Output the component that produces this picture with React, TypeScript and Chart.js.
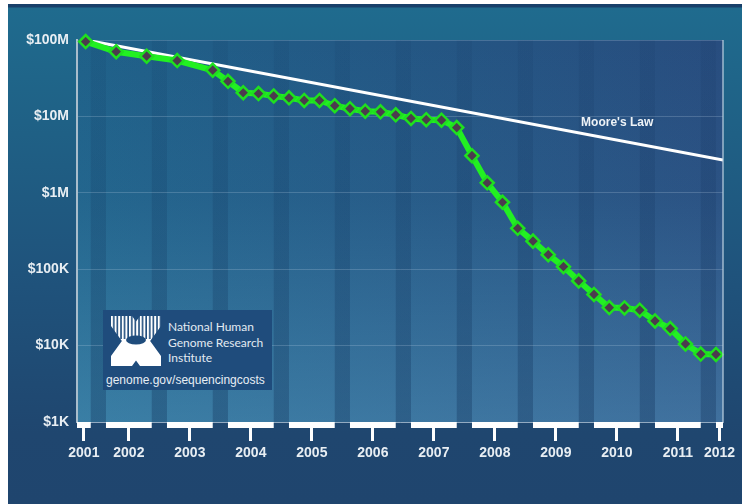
import React, { useEffect, useRef } from "react";
import { Chart, registerables } from "chart.js";

Chart.register(...registerables);

// ---- data ----
// sample dates as fractional years (Sep 2001 ... Jan 2012)
const sampleDates = [
  2001.667, 2002.167, 2002.667, 2003.167, 2003.75, 2004.0, 2004.25, 2004.5, 2004.75,
  2005.0, 2005.25, 2005.5, 2005.75, 2006.0, 2006.25, 2006.5, 2006.75,
  2007.0, 2007.25, 2007.5, 2007.75, 2008.0, 2008.25, 2008.5, 2008.75,
  2009.0, 2009.25, 2009.5, 2009.75, 2010.0, 2010.25, 2010.5, 2010.75,
  2011.0, 2011.25, 2011.5, 2011.75, 2012.0,
];
// cost per genome (USD)
const costPerGenome = [
  95.3e6, 70.2e6, 61.4e6, 53.8e6, 40.2e6, 28.8e6, 20.4e6, 19.9e6, 18.5e6,
  17.5e6, 16.2e6, 16.2e6, 13.8e6, 12.6e6, 11.7e6, 11.5e6, 10.5e6,
  9.41e6, 9.05e6, 8.93e6, 7.15e6, 3.06e6, 1.35e6, 752e3, 343e3,
  233e3, 155e3, 108e3, 70.3e3, 46.8e3, 31.5e3, 31.1e3, 29.1e3,
  21.0e3, 16.7e3, 10.5e3, 7.74e3, 7.67e3,
];
// Moore's Law reference line (two end points)
const mooreDates = [2001.667, 2012.115];
const mooreValues = [100e6, 2.68e6];
const mooreLabel = "Moore's Law";

const xTickYears = [2001, 2002, 2003, 2004, 2005, 2006, 2007, 2008, 2009, 2010, 2011, 2012];
const xTickLabels = ["2001", "2002", "2003", "2004", "2005", "2006", "2007", "2008", "2009", "2010", "2011", "2012"];
const yTickValues = [1e3, 1e4, 1e5, 1e6, 1e7, 1e8];
const yTickLabels = ["$1K", "$10K", "$100K", "$1M", "$10M", "$100M"];

const X_MIN = 2001.525;
const X_MAX = 2012.115;
const LIGHT_SPAN = 0.75; // light part of each year block (Jan..Oct)

const FONT = "'Liberation Sans', Arial, sans-serif";

function lightSeg(yr: number): [number, number] {
  return [Math.max(yr, X_MIN), Math.min(yr + LIGHT_SPAN, X_MAX)];
}

const decorPlugin = {
  id: "decor",
  beforeDraw(chart: any) {
    const { ctx, chartArea: a, scales } = chart;
    const x = scales.x;
    ctx.save();
    const g = ctx.createLinearGradient(a.left, 0, a.right, 0);
    g.addColorStop(0, "#1f6189");
    g.addColorStop(1, "#284d7f");
    ctx.fillStyle = g;
    ctx.fillRect(a.left, a.top, a.width, a.height);
    const v = ctx.createLinearGradient(0, a.top, 0, a.bottom);
    v.addColorStop(0, "rgba(110,190,225,0)");
    v.addColorStop(0.4, "rgba(110,190,225,0.05)");
    v.addColorStop(1, "rgba(120,195,230,0.3)");
    ctx.fillStyle = v;
    ctx.fillRect(a.left, a.top, a.width, a.height);
    // darker bands (Oct..Dec of each year)
    const b = ctx.createLinearGradient(0, a.top, 0, a.bottom);
    b.addColorStop(0, "rgba(10,40,80,0.08)");
    b.addColorStop(0.5, "rgba(10,40,80,0.18)");
    b.addColorStop(1, "rgba(10,40,80,0.3)");
    ctx.fillStyle = b;
    for (const yr of [2000, ...xTickYears]) {
      const s = Math.max(yr + LIGHT_SPAN, X_MIN);
      const e = Math.min(yr + 1, X_MAX);
      if (e > s) {
        const p0 = x.getPixelForValue(s);
        const p1 = x.getPixelForValue(e);
        ctx.fillRect(p0, a.top, p1 - p0, a.height);
      }
    }
    ctx.restore();
  },
  afterDatasetsDraw(chart: any) {
    const { ctx, scales } = chart;
    ctx.save();
    ctx.font = `bold 12px ${FONT}`;
    ctx.fillStyle = "#eef3f7";
    ctx.textAlign = "center";
    ctx.textBaseline = "middle";
    ctx.fillText(mooreLabel, scales.x.getPixelForValue(2010.38), scales.y.getPixelForValue(8.2e6));
    ctx.restore();
  },
  afterDraw(chart: any) {
    const { ctx, chartArea: a, scales } = chart;
    const x = scales.x;
    ctx.save();
    // right border
    ctx.strokeStyle = "rgba(190,210,225,0.6)";
    ctx.lineWidth = 2;
    ctx.beginPath();
    ctx.moveTo(a.right, a.top);
    ctx.lineTo(a.right, a.bottom);
    ctx.stroke();
    // white year bars under the axis
    ctx.fillStyle = "#ffffff";
    for (const yr of xTickYears) {
      const [s, e] = lightSeg(yr);
      if (e > s) {
        const p0 = x.getPixelForValue(s);
        const p1 = x.getPixelForValue(e);
        ctx.fillRect(p0, a.bottom, p1 - p0, 6);
      }
    }
    ctx.restore();
  },
};

const IconX = () => (
  <svg width="50" height="50" viewBox="0 0 50 50" style={{ position: "absolute", left: 8, top: 6 }}>
    <defs>
      <pattern id="nhgriStripes" width="3.6" height="50" patternUnits="userSpaceOnUse">
        <rect x="0" y="0" width="2" height="50" fill="#ffffff" />
      </pattern>
      <clipPath id="nhgriX">
        <polygon points="0,0 21,0 50,40 50,50 29,50 0,10" />
        <polygon points="29,0 50,0 50,10 21,50 0,50 0,40" />
      </clipPath>
    </defs>
    <g clipPath="url(#nhgriX)">
      <rect x="0" y="0" width="50" height="23" fill="url(#nhgriStripes)" />
      <rect x="0" y="23" width="50" height="27" fill="#ffffff" />
    </g>
    <ellipse cx="25" cy="24" rx="10" ry="4.5" fill="#1f4c7c" />
  </svg>
);

export default function App() {
  const ref = useRef<HTMLCanvasElement>(null);

  useEffect(() => {
    if (!ref.current) return;
    const chart = new Chart(ref.current, {
      type: "line",
      data: {
        datasets: [
          {
            label: "Cost per Genome",
            data: sampleDates.map((d, i) => ({ x: d, y: costPerGenome[i] })),
            borderColor: "#22f022",
            borderWidth: 6,
            pointStyle: "rectRot",
            pointRadius: 6.5,
            pointBackgroundColor: "#4c3b4e",
            pointBorderColor: "#1fe01f",
            pointBorderWidth: 2.5,
            tension: 0,
            clip: false as any,
            order: 0,
          },
          {
            label: mooreLabel,
            data: mooreDates.map((d, i) => ({ x: d, y: mooreValues[i] })),
            borderColor: "#ffffff",
            borderWidth: 3,
            pointRadius: 0,
            tension: 0,
            order: 1,
          },
        ],
      },
      options: {
        animation: false,
        responsive: true,
        maintainAspectRatio: false,
        layout: { padding: { left: 0, top: 36, right: 19, bottom: 42 } },
        plugins: {
          legend: { display: false },
          tooltip: { enabled: false },
          title: { display: false },
        },
        scales: {
          x: {
            type: "linear",
            min: X_MIN,
            max: X_MAX,
            afterBuildTicks: (scale: any) => {
              scale.ticks = xTickYears.map((yr) => {
                const [s, e] = lightSeg(yr);
                return { value: (s + e) / 2 };
              });
            },
            afterFit: (scale: any) => {
              scale.height = 40;
            },
            ticks: {
              autoSkip: false,
              maxRotation: 0,
              padding: 4,
              color: "#e8eef3",
              font: { family: FONT, size: 14, weight: "bold" },
              callback: (_v: any, i: number) => xTickLabels[i],
            },
            grid: {
              drawOnChartArea: false,
              drawTicks: true,
              tickLength: 19,
              tickWidth: 3,
              tickColor: "#ffffff",
            },
            border: { display: true, color: "rgba(200,215,230,0.6)", width: 1 },
          },
          y: {
            type: "logarithmic",
            min: 1e3,
            max: 1e8,
            afterBuildTicks: (scale: any) => {
              scale.ticks = yTickValues.map((v) => ({ value: v }));
            },
            afterFit: (scale: any) => {
              scale.width = 69;
            },
            ticks: {
              padding: 8,
              color: "#e8eef3",
              font: { family: FONT, size: 14, weight: "bold" },
              callback: (v: any) => {
                const i = yTickValues.indexOf(Number(v));
                return i >= 0 ? yTickLabels[i] : "";
              },
            },
            grid: {
              color: "rgba(200,220,235,0.22)",
              lineWidth: 1,
              drawTicks: false,
            },
            border: { display: true, color: "#a9bdcc", width: 2 },
          },
        },
      } as any,
      plugins: [decorPlugin],
    });
    return () => chart.destroy();
  }, []);

  return (
    <div
      style={{
        position: "absolute",
        left: 8,
        top: 4,
        width: 734,
        height: 500,
        background:
          "linear-gradient(to bottom, #18406a 0px, #18406a 3px, #1f6b8e 4px, #1f6085 130px, #1f537c 270px, #1f466f 430px, #1f456e 500px)",
      }}
    >
      <canvas ref={ref} style={{ display: "block" }} />
      <div
        style={{
          position: "absolute",
          left: 95,
          top: 306,
          width: 169,
          height: 80,
          background: "#1f4c7c",
          color: "#e2eaf1",
        }}
      >
        <IconX />
        <div
          style={{
            position: "absolute",
            left: 65,
            top: 9,
            fontFamily: "Lato, 'Open Sans', sans-serif",
            fontSize: 12,
            lineHeight: "15.5px",
            whiteSpace: "nowrap",
          }}
        >
          National Human
          <br />
          Genome Research
          <br />
          Institute
        </div>
        <div
          style={{
            position: "absolute",
            left: 3,
            top: 62,
            fontFamily: FONT,
            fontSize: 12,
            lineHeight: "16px",
            whiteSpace: "nowrap",
            color: "#e8eef4",
          }}
        >
          genome.gov/sequencingcosts
        </div>
      </div>
    </div>
  );
}
